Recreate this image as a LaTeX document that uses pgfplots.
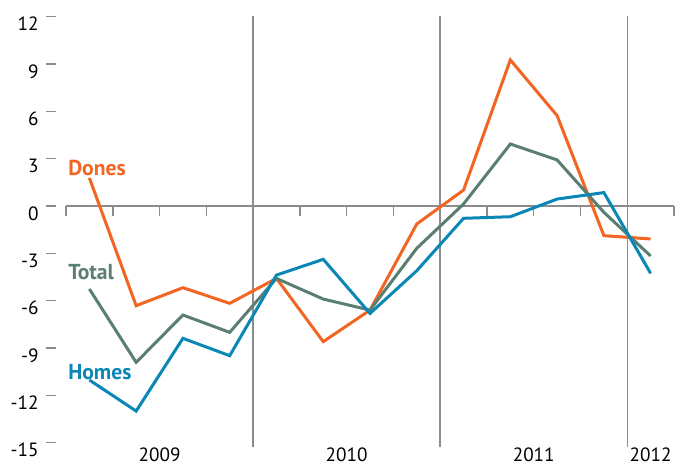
\documentclass[border=0pt]{standalone}
\usepackage{pgfplots}
\pgfplotsset{compat=1.18}
\usepackage{fontspec}
\setmainfont{PT Sans}
\definecolor{cDones}{HTML}{F26522}
\definecolor{cTotal}{HTML}{5A7F72}
\definecolor{cHomes}{HTML}{0A87B5}
\definecolor{cGrid}{HTML}{8C8C8C}
\begin{document}
\begin{tikzpicture}
\begin{axis}[
  scale only axis,
  width=304pt, height=215.3pt,
  xmin=0, xmax=13, ymin=-15.25, ymax=12.05,
  axis line style={draw=none},
  clip=false,
  tick align=outside,
  ytick pos=left,
  xtick pos=bottom,
  major tick length=5pt,
  ytick={-15,-12,...,12},
  ytick style={draw=cGrid, line width=0.7pt, xshift=-4.75pt},
  yticklabel style={font=\fontsize{9.6}{10}\selectfont, anchor=north east, inner sep=0pt, xshift=-8.5pt},
  xtick={2,6,10,12.5},
  xticklabels={2009,2010,2011,2012},
  x tick style={draw=none},
  xticklabel style={font=\fontsize{9.6}{10}\selectfont, anchor=base, inner sep=0pt, yshift=-2.5pt},
  /pgf/number format/assume math mode=true,
  line join=miter,
]
\coordinate (tl) at (axis cs:-1.411,13.06);
\coordinate (br) at (axis cs:13.17,-16.36);
\draw[cGrid, line width=0.75pt] (axis cs:4,12.05) -- (axis cs:4,-15.25);
\draw[cGrid, line width=0.75pt] (axis cs:8,12.05) -- (axis cs:8,-15.25);
\draw[cGrid, line width=0.75pt] (axis cs:12,12.05) -- (axis cs:12,-15.25);
\draw[cGrid, line width=0.75pt] (axis cs:0,0) -- (axis cs:13,0);
\pgfplotsinvokeforeach{0,...,13}{\draw[cGrid, line width=0.75pt] (axis cs:#1,0) -- ([yshift=-5pt]axis cs:#1,0);}
\addplot[cDones, line width=1.5pt] coordinates {
(0.5,1.78) (1.5,-6.32) (2.5,-5.18) (3.5,-6.17) (4.5,-4.59) (5.5,-8.6) (6.5,-6.6)
(7.5,-1.14) (8.5,1.01) (9.5,9.26) (10.5,5.73) (11.5,-1.88) (12.5,-2.09)};
\addplot[cTotal, line width=1.5pt] coordinates {
(0.5,-5.26) (1.5,-9.91) (2.5,-6.91) (3.5,-8.01) (4.5,-4.59) (5.5,-5.9) (6.5,-6.6)
(7.5,-2.68) (8.5,0.13) (9.5,3.93) (10.5,2.92) (11.5,-0.40) (12.5,-3.17)};
\addplot[cHomes, line width=1.5pt] coordinates {
(0.5,-11.03) (1.5,-13.0) (2.5,-8.39) (3.5,-9.49) (4.5,-4.38) (5.5,-3.38) (6.5,-6.81)
(7.5,-4.10) (8.5,-0.78) (9.5,-0.68) (10.5,0.44) (11.5,0.85) (12.5,-4.27)};
\node[anchor=west, inner sep=0pt, text=cDones, font=\fontsize{10.8}{11}\selectfont\bfseries] at (axis cs:0.04,2.41) {Dones};
\node[anchor=west, inner sep=0pt, text=cTotal, font=\fontsize{10.8}{11}\selectfont\bfseries] at (axis cs:0.04,-4.19) {Total};
\node[anchor=west, inner sep=0pt, text=cHomes, font=\fontsize{10.8}{11}\selectfont\bfseries] at (axis cs:0.04,-10.53) {Homes};
\end{axis}
\pgfresetboundingbox
\path[use as bounding box] (tl) rectangle (br);
\end{tikzpicture}
\end{document}
